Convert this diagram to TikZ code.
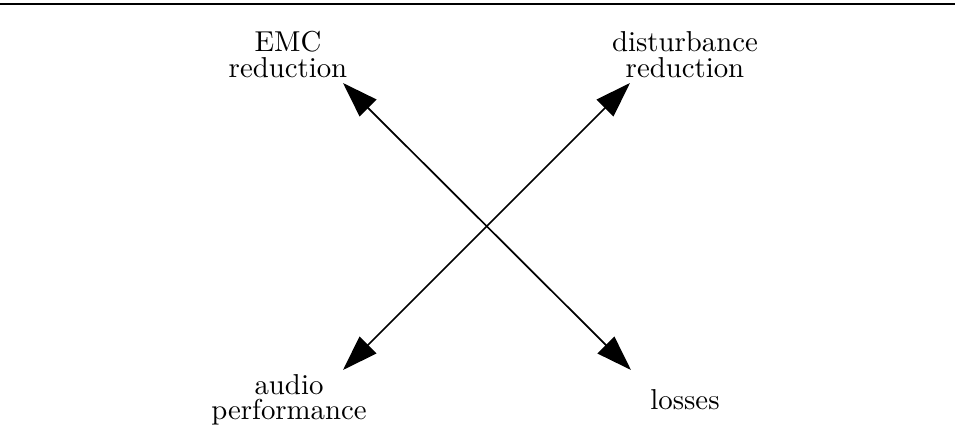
\documentclass[tikz,border=0pt]{standalone}
\usetikzlibrary{arrows.meta}
\begin{document}
\begin{tikzpicture}[x=0.3472pt,y=-0.3472pt,
  lbl/.style={align=center,inner sep=0pt,font={\fontsize{10pt}{8.8pt}\selectfont}},
  tradeoff/.style={line width=0.6pt,{Triangle[length=12.3pt,width=8.2pt]}-{Triangle[length=12.3pt,width=8.2pt]}},
  rule/.style={line width=0.4pt}]
  \useasboundingbox (0,0) rectangle (955,444);
  % top rule
  \coordinate (rl) at (0,4);
  \coordinate (rr) at (955,4);
  \draw[rule] (rl) -- (rr);
  % arrow end points
  \coordinate (nw) at (343,83);
  \coordinate (ne) at (630,83);
  \coordinate (sw) at (343,370);
  \coordinate (se) at (631,370);
  % labels (base anchor sits on the last line)
  \node[lbl,anchor=base] (emc) at (288,77) {EMC\\reduction};
  \node[lbl,anchor=base] (dist) at (685,77) {disturbance\\reduction};
  \node[lbl,anchor=base] (audio) at (289,420) {audio\\performance};
  \node[lbl,anchor=base] (loss) at (685,410) {losses};
  % trade-off arrows
  \draw[tradeoff] (nw) -- (se);
  \draw[tradeoff] (sw) -- (ne);
\end{tikzpicture}
\end{document}
